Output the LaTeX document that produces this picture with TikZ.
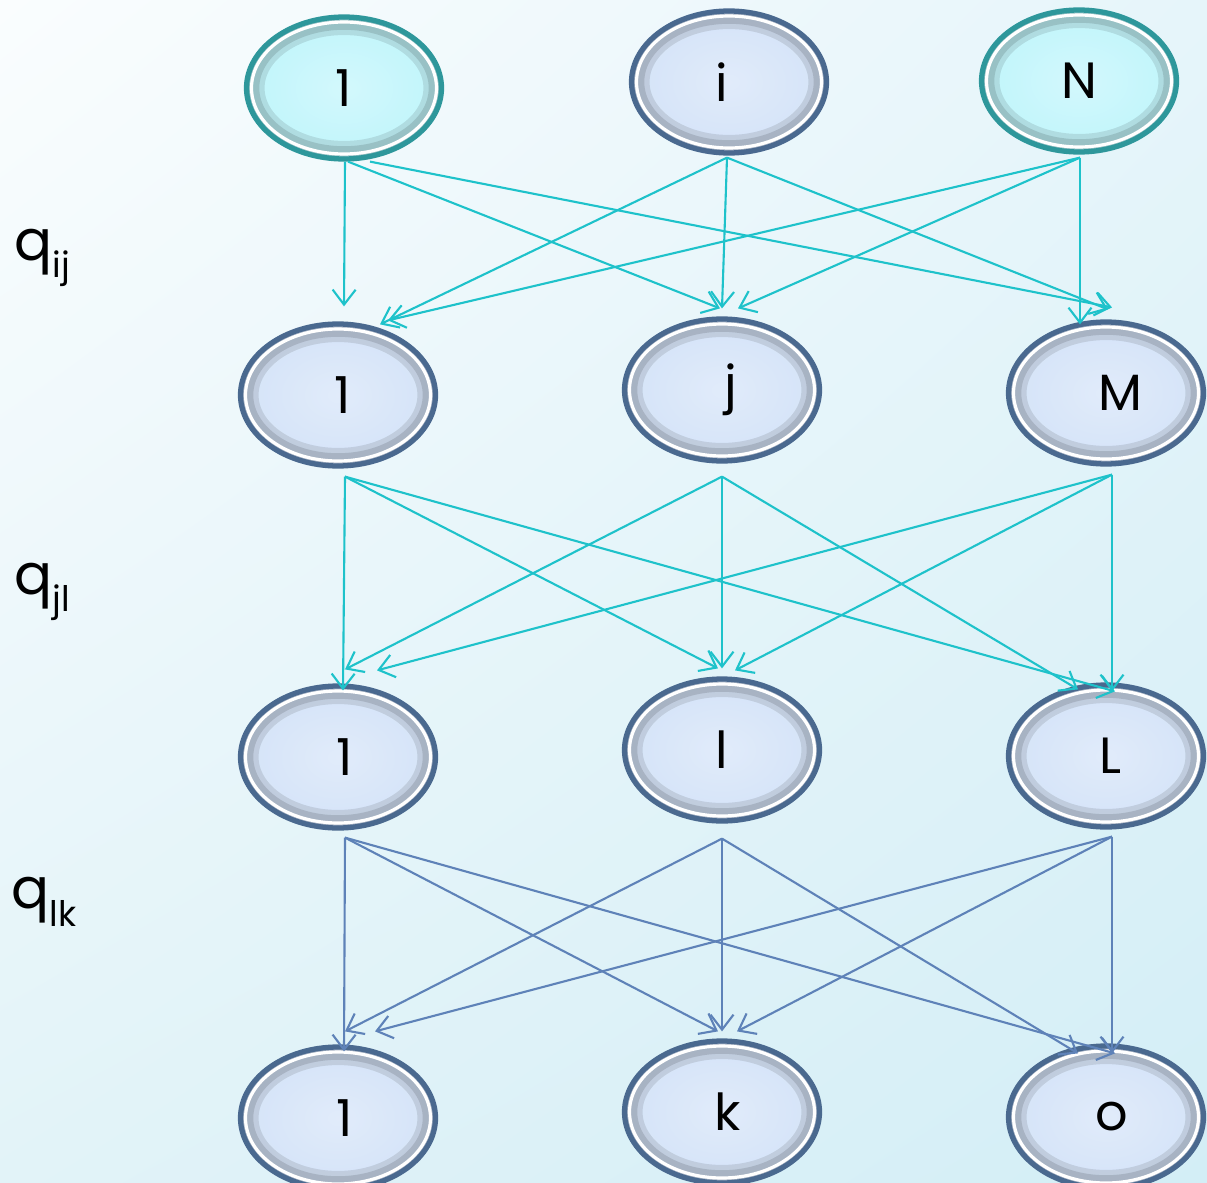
\documentclass[tikz,border=0pt]{standalone}
\usepackage{fontspec}
\setmainfont{Poppins}
\usetikzlibrary{arrows.meta,shapes.geometric,shadings}
\definecolor{tealline}{HTML}{1EC2CA}
\definecolor{blueline}{HTML}{5E82B8}
\definecolor{cyanfill}{HTML}{C0F5FB}
\definecolor{cyanedge}{HTML}{2E979B}
\definecolor{bluefill}{HTML}{D4E3F8}
\definecolor{blueedge}{HTML}{4A698F}
\definecolor{bgA}{HTML}{FAFDFE}
\definecolor{bgB}{HTML}{E6F5FA}
\definecolor{bgC}{HTML}{E2F3F8}
\definecolor{bgD}{HTML}{D3EEF6}
\newcommand{\tsh}[2]{\hspace*{#1}#2}
\tikzset{
  base/.style={ellipse, minimum width=3.9cm, minimum height=2.84cm, inner sep=0pt,
    line width=3pt, text=black, font=\fontsize{29}{29}\selectfont,
    path picture={
      \draw[black, opacity=0.10, line width=12pt] (path picture bounding box.center)
        ellipse [x radius=1.80cm, y radius=1.27cm];
      \draw[black, opacity=0.12, line width=6pt] (path picture bounding box.center)
        ellipse [x radius=1.80cm, y radius=1.27cm];
      \draw[white, line width=1.8pt] (path picture bounding box.center)
        ellipse [x radius=1.85cm, y radius=1.32cm];}},
  bnode/.style={base, draw=blueedge, inner color=bluefill!70!white, outer color=bluefill},
  cnode/.style={base, draw=cyanedge, inner color=cyanfill!70!white, outer color=cyanfill},
  tarrow/.style={draw=tealline, line width=1.2pt, -{Straight Barb[length=0.3cm,width=0.46cm]}},
  barrow/.style={draw=blueline, line width=1.2pt, -{Straight Barb[length=0.3cm,width=0.46cm]}},
  qlabel/.style={font=\fontsize{32}{32}\selectfont, inner sep=0pt}
}
\begin{document}
\begin{tikzpicture}[x=0.02cm, y=-0.02cm]
\useasboundingbox (0,0) rectangle (1207,1183);
\shade[upper left=bgA, upper right=bgB, lower left=bgC, lower right=bgD] (0,0) rectangle (1207,1183);

% row 1
\node[cnode] (t1) at (344,88) {1};
\node[bnode] (ti) at (729,82) {\tsh{-0.3cm}{i}};
\node[cnode] (tN) at (1079,81) {N};
% row 2
\node[bnode] (r2a) at (338,395) {\tsh{0.2cm}{1}};
\node[bnode] (r2j) at (722,390) {\tsh{0.36cm}{j}};
\node[bnode] (r2M) at (1106,393) {\tsh{0.56cm}{M}};
% row 3
\node[bnode] (r3a) at (338,757) {\tsh{0.28cm}{1}};
\node[bnode] (r3l) at (722,750) {l};
\node[bnode] (r3L) at (1106,756) {\tsh{0.16cm}{L}};
% row 4
\node[bnode] (r4a) at (338,1118) {\tsh{0.28cm}{1}};
\node[bnode] (r4k) at (722,1112) {\tsh{0.24cm}{k}};
\node[bnode] (r4o) at (1106,1117) {\tsh{0.24cm}{o}};

% labels
\node[qlabel, anchor=west] (q1) at (14,258) {q\raisebox{-10pt}{\fontsize{20}{20}\selectfont ij}};
\node[qlabel, anchor=west] (q2) at (14,592) {q\raisebox{-10pt}{\fontsize{20}{20}\selectfont jl}};
\node[qlabel, anchor=west] (q3) at (11,902) {q\raisebox{-10pt}{\fontsize{20}{20}\selectfont lk}};

% layer 1 -> 2
\draw[tarrow] ([shift={(1,0)}]t1.south) -- ([shift={(6,-15)}]r2a.north);
\draw[tarrow] ([shift={(4,0)}]t1.south) -- ([shift={(-2,-8)}]r2j.north);
\draw[tarrow] ([shift={(26,0)}]t1.south) -- ([shift={(6,-12)}]r2M.north);
\draw[tarrow] ([shift={(-2,2)}]ti.south) -- ([shift={(42,3)}]r2a.north);
\draw[tarrow] ([shift={(-2,2)}]ti.south) -- ([shift={(0,-8)}]r2j.north);
\draw[tarrow] ([shift={(-2,2)}]ti.south) -- ([shift={(2,-10)}]r2M.north);
\draw[tarrow] ([shift={(1,3)}]tN.south) -- ([shift={(50,-1)}]r2a.north);
\draw[tarrow] ([shift={(1,3)}]tN.south) -- ([shift={(16,-8)}]r2j.north);
\draw[tarrow] ([shift={(1,3)}]tN.south) -- ([shift={(-26,5)}]r2M.north);

% layer 2 -> 3
\draw[tarrow] ([shift={(7,8)}]r2a.south) -- ([shift={(5,7)}]r3a.north);
\draw[tarrow] ([shift={(7,8)}]r2a.south) -- ([shift={(-4,-8)}]r3l.north);
\draw[tarrow] ([shift={(7,8)}]r2a.south) -- ([shift={(9,9)}]r3L.north);
\draw[tarrow] ([shift={(0,13)}]r2j.south) -- ([shift={(7,-14)}]r3a.north);
\draw[tarrow] ([shift={(0,13)}]r2j.south) -- ([shift={(0,-8)}]r3l.north);
\draw[tarrow] ([shift={(0,13)}]r2j.south) -- ([shift={(-28,7)}]r3L.north);
\draw[tarrow] ([shift={(6,8)}]r2M.south) -- ([shift={(39,-13)}]r3a.north);
\draw[tarrow] ([shift={(6,8)}]r2M.south) -- ([shift={(13,-6)}]r3l.north);
\draw[tarrow] ([shift={(6,8)}]r2M.south) -- ([shift={(6,9)}]r3L.north);

% layer 3 -> 4
\draw[barrow] ([shift={(7,7)}]r3a.south) -- ([shift={(6,7)}]r4a.north);
\draw[barrow] ([shift={(7,7)}]r3a.south) -- ([shift={(-4,-7)}]r4k.north);
\draw[barrow] ([shift={(7,7)}]r3a.south) -- ([shift={(9,10)}]r4o.north);
\draw[barrow] ([shift={(0,15)}]r3l.south) -- ([shift={(7,-13)}]r4a.north);
\draw[barrow] ([shift={(0,15)}]r3l.south) -- ([shift={(0,-7)}]r4k.north);
\draw[barrow] ([shift={(0,15)}]r3l.south) -- ([shift={(-28,10)}]r4o.north);
\draw[barrow] ([shift={(6,7)}]r3L.south) -- ([shift={(37,-13)}]r4a.north);
\draw[barrow] ([shift={(6,7)}]r3L.south) -- ([shift={(15,-7)}]r4k.north);
\draw[barrow] ([shift={(6,7)}]r3L.south) -- ([shift={(6,10)}]r4o.north);
\end{tikzpicture}
\end{document}
